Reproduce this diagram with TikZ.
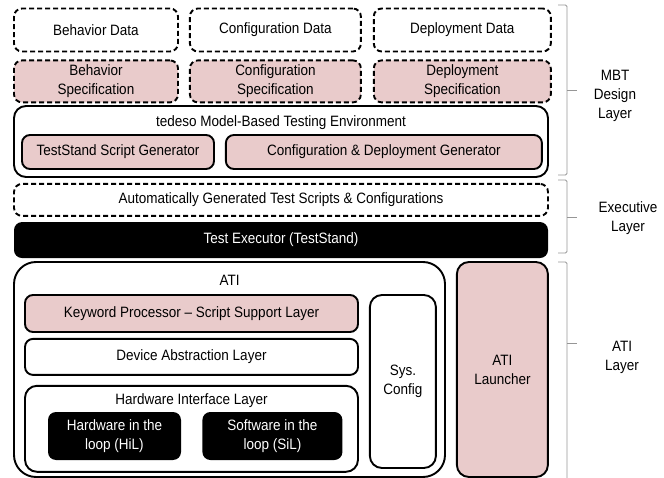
\documentclass[tikz,border=0pt]{standalone}
\usepackage{xcolor}
\usepackage{tikz}
\usepackage{fontspec}
\setmainfont{Liberation Sans}[FakeStretch=0.9]
\definecolor{specpink}{RGB}{233,203,203}
\definecolor{bracegray}{RGB}{150,150,150}
\usetikzlibrary{positioning}

\begin{document}
\begin{tikzpicture}[
    x=1pt, y=1pt,
    every node/.style={font=\fontsize{15}{19}\selectfont, align=center, inner sep=0pt},
    databox/.style={rectangle, draw, dashed, dash pattern=on 5pt off 3pt, line width=1.9pt, rounded corners=8pt, minimum height=43pt},
    specbox/.style={databox, fill=specpink, minimum height=42pt},
    layerbox/.style={rectangle, draw, line width=1.9pt, rounded corners=8pt},
    pinkbox/.style={layerbox, fill=specpink},
    darkbox/.style={rectangle, fill=black, text=white, rounded corners=8pt},
    brace/.style={draw=bracegray, line width=0.9pt, rounded corners=1.5pt}
]
\useasboundingbox (0,0) rectangle (664,-478);

\node[databox, minimum width=164pt] (behdata) at (96,-30) {Behavior Data};
\node[databox, minimum width=171pt, right=10pt of behdata] (cfgdata) {Configuration Data};
\node[databox, minimum width=177pt, right=11pt of cfgdata] (depdata) {Deployment Data};

\node[specbox, minimum width=164pt, below=7pt of behdata] (behspec) {Behavior\\Specification};
\node[specbox, minimum width=171pt, below=7pt of cfgdata] (cfgspec) {Configuration\\Specification};
\node[specbox, minimum width=177pt, below=7pt of depdata] (depspec) {Deployment\\Specification};

\node[layerbox, rounded corners=12pt, minimum width=534pt, minimum height=71pt] (mbtenv) at (281,-141.5) {};
\node (mbttitle) at ([yshift=-18pt]mbtenv.north) {tedeso Model-Based Testing Environment};
\node[pinkbox, minimum width=192pt, minimum height=34pt] (tsgen) at (118,-152) {TestStand Script Generator};
\node[pinkbox, minimum width=316pt, minimum height=34pt, right=10pt of tsgen] (cdgen) {Configuration \& Deployment Generator};

\node[databox, minimum width=534pt, minimum height=32pt, below=5pt of mbtenv] (autogen) {Automatically Generated Test Scripts \& Configurations};
\node[darkbox, minimum width=534pt, minimum height=36pt, below=5pt of autogen] (executor) {Test Executor (TestStand)};

\node[layerbox, rounded corners=22pt, minimum width=431pt, minimum height=215pt] (ati) at (229.5,-369.5) {};
\node (atititle) at ([yshift=-19pt]ati.north) {ATI};
\node[pinkbox, minimum width=333pt, minimum height=37pt] (keyword) at (191.5,-313.5) {Keyword Processor -- Script Support Layer};
\node[layerbox, minimum width=333pt, minimum height=36pt, below=5pt of keyword] (device) {Device Abstraction Layer};
\node[layerbox, rounded corners=12pt, minimum width=333pt, minimum height=86pt, below=9pt of device] (hwi) {};
\node (hwititle) at ([yshift=-16pt]hwi.north) {Hardware Interface Layer};
\node[darkbox, minimum width=133pt, minimum height=48pt] (hil) at (114.5,-436) {Hardware in the\\loop (HiL)};
\node[darkbox, minimum width=140pt, minimum height=48pt, right=21pt of hil] (sil) {Software in the\\loop (SiL)};
\node[layerbox, rounded corners=12pt, minimum width=66pt, minimum height=173pt, right=10pt of keyword.north east, anchor=north west] (sysconfig) {Sys.\\Config};
\node[pinkbox, rounded corners=12pt, minimum width=91pt, minimum height=215pt, right=10pt of ati.north east, anchor=north west] (launcher) {ATI\\Launcher};

\draw[brace] (558,-5) -| (567,-175) -- (558,-175);
\draw[brace] (567,-90) -- (577,-90);
\draw[brace] (558,-180) -| (567,-253) -- (558,-253);
\draw[brace] (567,-217) -- (577,-217);
\draw[brace] (558,-262) -| (567,-478);
\draw[brace] (567,-343) -- (577,-343);

\node (mbtlayer) at (615,-96) {MBT\\Design\\Layer};
\node (execlayer) at (628,-218) {Executive\\Layer};
\node (atilayer) at (622,-357) {ATI\\Layer};

\end{tikzpicture}
\end{document}
